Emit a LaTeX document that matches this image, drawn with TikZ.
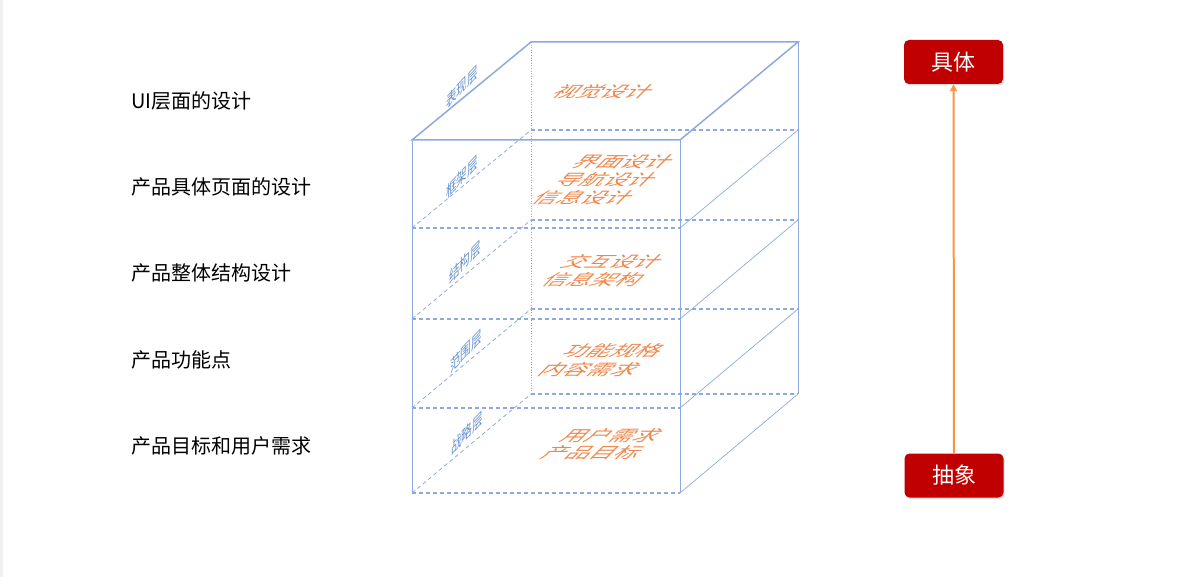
\documentclass[tikz,border=0pt]{standalone}
\usepackage{fontspec}
\setmainfont{Noto Sans CJK SC}
\usetikzlibrary{arrows.meta,shadows}
\definecolor{edgeblue}{RGB}{142,169,222}
\definecolor{labelblue}{RGB}{95,142,205}
\definecolor{planeorange}{RGB}{238,135,75}
\definecolor{tagred}{RGB}{192,0,0}
\definecolor{arroworange}{RGB}{247,150,70}
\definecolor{stripgrey}{RGB}{240,240,240}

\begin{document}
\begin{tikzpicture}[x=1pt,y=-1pt,
    every node/.style={inner sep=0pt},
    topedge/.style={draw=edgeblue,line width=1.5pt},
    sideedge/.style={draw=edgeblue,line width=0.7pt},
    layeredge/.style={draw=edgeblue,line width=1.1pt,dash pattern=on 4pt off 3pt},
    slopeedge/.style={draw=edgeblue,line width=0.8pt,dash pattern=on 4pt off 3pt},
    backedge/.style={draw=edgeblue,line width=0.6pt,dotted},
    sidelabel/.style={text=labelblue,font=\fontsize{16}{16}\selectfont,yslant=1.05,xscale=0.66},
    planetext/.style={text=planeorange,font=\fontsize{24}{24}\selectfont,xslant=1,yscale=0.64},
    leftlabel/.style={anchor=west,font=\fontsize{20}{20}\selectfont},
    tag/.style={fill=tagred,rounded corners=5pt,minimum width=99pt,minimum height=44pt,text=white,
      font=\fontsize{22}{22}\selectfont,drop shadow={opacity=0.25,shadow xshift=1pt,shadow yshift=-1.5pt}}]
  \useasboundingbox (0,0) rectangle (1199,577);
  \fill[stripgrey] (0,0) rectangle (3,577);

  \node[leftlabel] (ui) at (131,101) {UI层面的设计};
  \node[leftlabel] (page) at (131,187) {产品具体页面的设计};
  \node[leftlabel] (structure) at (131,273) {产品整体结构设计};
  \node[leftlabel] (feature) at (131,360) {产品功能点};
  \node[leftlabel] (goal) at (131,446) {产品目标和用户需求};

  \draw[backedge] (531,42) -- (531,394);
  \draw[sideedge] (798,42) -- (798,394);
  \draw[layeredge] (531,130) -- (798,130);
  \draw[layeredge] (531,220) -- (798,220);
  \draw[layeredge] (531,309) -- (798,309);
  \draw[layeredge] (531,394) -- (798,394);
  \draw[slopeedge] (412,228) -- (531,130);
  \draw[slopeedge] (412,319) -- (531,220);
  \draw[slopeedge] (412,408) -- (531,309);
  \draw[slopeedge] (412,493) -- (531,394);
  \draw[sideedge] (680,228) -- (798,130);
  \draw[sideedge] (680,319) -- (798,220);
  \draw[sideedge] (680,408) -- (798,309);
  \draw[sideedge] (680,493) -- (798,394);
  \draw[layeredge] (412,228) -- (680,228);
  \draw[layeredge] (412,319) -- (680,319);
  \draw[layeredge] (412,408) -- (680,408);
  \draw[layeredge] (412,493) -- (680,493);
  \draw[sideedge] (412,140) -- (412,493);
  \draw[sideedge] (680,140) -- (680,493);
  \draw[topedge] (412,140) -- (680,140) -- (798,42) -- (531,42) -- cycle;

  \node[sidelabel] (surface) at (462,87) {表现层};
  \node[sidelabel] (skeleton) at (462,177) {框架层};
  \node[sidelabel] (structlayer) at (465,262) {结构层};
  \node[sidelabel] (scope) at (466,351) {范围层};
  \node[sidelabel] (strategy) at (467,433) {战略层};

  \node[planetext] (visual) at (604,92) {视觉设计};
  \node[planetext] (interface) at (624,162) {界面设计};
  \node[planetext] (navigation) at (607,180) {导航设计};
  \node[planetext] (infodesign) at (584,198) {信息设计};
  \node[planetext] (interaction) at (613,262) {交互设计};
  \node[planetext] (infoarch) at (594,280) {信息架构};
  \node[planetext] (funcspec) at (614,351) {功能规格};
  \node[planetext] (content) at (590,370) {内容需求};
  \node[planetext] (userneed) at (612,436) {用户需求};
  \node[planetext] (target) at (593,453) {产品目标};

  \node[tag] (concrete) at (953.5,62) {具体};
  \node[tag] (abstract) at (954,475.5) {抽象};
  \draw[arroworange,line width=2pt,-{Triangle[length=7pt,width=7pt]}] (abstract) -- (concrete);
\end{tikzpicture}
\end{document}
